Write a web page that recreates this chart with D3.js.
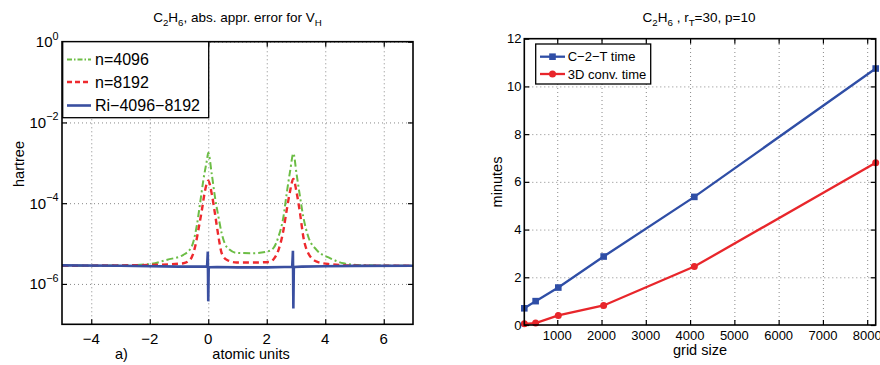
<!DOCTYPE html>
<html>
<head>
<meta charset="utf-8">
<script src="https://cdn.jsdelivr.net/npm/d3@7"></script>
<style>
body { margin: 0; background: #fff; }
svg { font-family: "Liberation Sans", Arial, Helvetica, sans-serif; }
.grid line { stroke: #888; stroke-dasharray: 1,3; stroke-width: 1; }
.grid path { display: none; }
.ticks path { display: none; }
.ticks line { stroke: #000; stroke-width: 1.2; }
</style>
</head>
<body>
<svg width="880" height="365"></svg>
<script>
// left panel: abs. error (hartree) along the molecule axis (atomic units)
var xGreen = [-5, -3, -2, -1.4, -0.85, -0.57, -0.4, -0.28, -0.17, -0.05, 0, 0.12, 0.23, 0.35, 0.46, 0.63, 0.97, 1.5, 2.0, 2.22, 2.4, 2.57, 2.68, 2.8, 2.91, 3.02, 3.14, 3.25, 3.42, 3.71, 4.16, 4.62, 5.07, 6, 7];
var yGreen = [2.82e-6, 2.85e-6, 3.1e-6, 3.98e-6, 5.25e-6, 8.3e-6, 2.57e-5, 9.8e-5, 3.63e-4, 1.12e-3, 1.78e-3, 5.25e-4, 1.41e-4, 4.57e-5, 1.78e-5, 8.3e-6, 5.89e-6, 5.75e-6, 6.3e-6, 7.6e-6, 1.48e-5, 4.57e-5, 1.7e-4, 6.3e-4, 1.7e-3, 5.25e-4, 1.41e-4, 4.57e-5, 1.48e-5, 6.9e-6, 4.37e-6, 3.24e-6, 2.95e-6, 2.85e-6, 2.82e-6];

var xRed = [-5, -2, -0.85, -0.62, -0.45, -0.34, -0.22, -0.11, 0, 0.12, 0.23, 0.35, 0.46, 0.63, 0.97, 1.5, 2.1, 2.22, 2.4, 2.57, 2.68, 2.8, 2.91, 3.02, 3.14, 3.25, 3.42, 3.71, 4.16, 5, 7];
var yRed = [2.82e-6, 2.95e-6, 3.24e-6, 3.98e-6, 8.3e-6, 2.14e-5, 6.6e-5, 2.04e-4, 3.63e-4, 1.7e-4, 5.5e-5, 1.48e-5, 5.75e-6, 3.98e-6, 3.39e-6, 3.39e-6, 3.5e-6, 3.98e-6, 6.9e-6, 2.14e-5, 6.6e-5, 2.04e-4, 3.98e-4, 1.86e-4, 5.5e-5, 1.48e-5, 5.75e-6, 3.55e-6, 3.09e-6, 2.85e-6, 2.82e-6];

var xBlue = [-5, -3, -1, -0.3, -0.04, -0.015, 0, 0.015, 0.04, 0.3, 1, 2, 2.6, 2.87, 2.895, 2.91, 2.925, 2.95, 3.2, 4, 5, 7];
var yBlue = [2.88e-6, 2.82e-6, 2.69e-6, 2.69e-6, 2.69e-6, 6.3e-6, 3.7e-7, 2.4e-6, 2.6e-6, 2.63e-6, 2.57e-6, 2.57e-6, 2.63e-6, 2.63e-6, 6.6e-6, 2.45e-7, 2.4e-6, 2.63e-6, 2.69e-6, 2.75e-6, 2.8e-6, 2.82e-6];

var leftXTicks = [-4, -2, 0, 2, 4, 6];
var leftYTicks = [1e-6, 1e-4, 1e-2, 1];
var leftLegend = ["n=4096", "n=8192", "Ri\u22124096\u22128192"];

// right panel: timings
var gridSize = [256, 512, 1024, 2048, 4096, 8192];
var c2tTime = [0.70, 1.00, 1.57, 2.87, 5.37, 10.75];
var convTime = [0.05, 0.08, 0.40, 0.82, 2.45, 6.80];
var rightXTicks = [1000, 2000, 3000, 4000, 5000, 6000, 7000, 8000];
var rightYTicks = [0, 2, 4, 6, 8, 10, 12];
var rightLegend = ["C\u22122\u2212T time", "3D conv. time"];

var green = "#6cbd45", red = "#ee2a2e", blue = "#3a4fa0";
var blue2 = "#2f4ea6", red2 = "#e8262b";

var svg = d3.select("svg");

// text with sub/superscripts: parts = [[str, "sub"|"sup"|null], ...]
function richText(text, parts, size) {
    var off = 0;
    parts.forEach(function(p) {
        var target = p[1] == "sub" ? size * 0.32 : p[1] == "sup" ? -size * 0.5 : 0;
        text.append("tspan")
            .attr("dy", target - off)
            .attr("font-size", p[1] ? size * 0.72 : size)
            .text(p[0]);
        off = target;
    });
    return text;
}

// ---------- left panel ----------
var L = {left: 62, right: 413, top: 41.7, bottom: 324.3};
var xL = d3.scaleLinear().domain([-5, 7]).range([L.left, L.right]);
var yL = d3.scaleLog().domain([1e-7, 1]).range([L.bottom, L.top]);

var gl = svg.append("g");

gl.append("g").attr("class", "grid")
    .attr("transform", "translate(0," + L.bottom + ")")
    .call(d3.axisBottom(xL).tickValues(leftXTicks).tickSize(-(L.bottom - L.top)).tickFormat(""));
gl.append("g").attr("class", "grid")
    .attr("transform", "translate(" + L.left + ",0)")
    .call(d3.axisLeft(yL).tickValues(leftYTicks).tickSize(-(L.right - L.left)).tickFormat(""));

gl.append("clipPath").attr("id", "clipL")
    .append("rect").attr("x", L.left).attr("y", L.top)
    .attr("width", L.right - L.left).attr("height", L.bottom - L.top);

var curves = gl.append("g").attr("clip-path", "url(#clipL)");

var logLine = d3.line()
    .x(function(d) { return xL(d[0]); })
    .y(function(d) { return yL(d[1]); });

curves.append("path")
    .datum(d3.zip(xGreen, yGreen))
    .attr("d", logLine.curve(d3.curveMonotoneX))
    .attr("fill", "none").attr("stroke", green).attr("stroke-width", 2)
    .attr("stroke-dasharray", "7,3,2,3");
curves.append("path")
    .datum(d3.zip(xRed, yRed))
    .attr("d", logLine.curve(d3.curveMonotoneX))
    .attr("fill", "none").attr("stroke", red).attr("stroke-width", 2.4)
    .attr("stroke-dasharray", "6,4");
curves.append("path")
    .datum(d3.zip(xBlue, yBlue))
    .attr("d", logLine.curve(d3.curveLinear))
    .attr("fill", "none").attr("stroke", blue).attr("stroke-width", 2.6);

// inward ticks on all four sides
gl.append("g").attr("class", "ticks")
    .attr("transform", "translate(0," + L.bottom + ")")
    .call(d3.axisBottom(xL).tickValues(leftXTicks).tickSize(-5).tickFormat(""));
gl.append("g").attr("class", "ticks")
    .attr("transform", "translate(0," + L.top + ")")
    .call(d3.axisTop(xL).tickValues(leftXTicks).tickSize(-5).tickFormat(""));
gl.append("g").attr("class", "ticks")
    .attr("transform", "translate(" + L.left + ",0)")
    .call(d3.axisLeft(yL).tickValues(leftYTicks).tickSize(-5).tickFormat(""));
gl.append("g").attr("class", "ticks")
    .attr("transform", "translate(" + L.right + ",0)")
    .call(d3.axisRight(yL).tickValues(leftYTicks).tickSize(-5).tickFormat(""));

gl.append("rect")
    .attr("x", L.left).attr("y", L.top)
    .attr("width", L.right - L.left).attr("height", L.bottom - L.top)
    .attr("fill", "none").attr("stroke", "#000").attr("stroke-width", 1.6);

gl.selectAll(".xlab").data(leftXTicks).enter().append("text")
    .attr("x", function(d) { return xL(d); })
    .attr("y", 343.5)
    .attr("text-anchor", "middle")
    .attr("font-size", 15)
    .text(function(d) { return d3.format("d")(d); });

leftYTicks.forEach(function(v) {
    var t = gl.append("text")
        .attr("x", 58.5).attr("y", yL(v) + 5.5)
        .attr("text-anchor", "end");
    richText(t, [["10", null], [d3.format("d")(Math.round(Math.log10(v))), "sup"]], 15);
});

richText(gl.append("text").attr("x", 237.5).attr("y", 21.5).attr("text-anchor", "middle"),
    [["C", null], ["2", "sub"], ["H", null], ["6", "sub"], [", abs. appr. error for V", null], ["H", "sub"]], 13.5);

gl.append("text")
    .attr("transform", "translate(23.5,164) rotate(-90)")
    .attr("text-anchor", "middle").attr("font-size", 14.5)
    .text("hartree");
gl.append("text")
    .attr("x", 251).attr("y", 358.5)
    .attr("text-anchor", "middle").attr("font-size", 14.5)
    .text("atomic units");
gl.append("text")
    .attr("x", 115).attr("y", 358.5)
    .attr("font-size", 14.5)
    .text("a)");

// left legend
var lg = gl.append("g");
lg.append("rect")
    .attr("x", 62.7).attr("y", 41.7).attr("width", 146).attr("height", 76)
    .attr("fill", "#fff").attr("stroke", "#000").attr("stroke-width", 1.3);
var legY = [59.5, 82, 105.5];
var legStyle = [[green, 2, "5,2,1.5,2"], [red, 2.4, "5,3"], [blue, 2.6, null]];
leftLegend.forEach(function(name, i) {
    lg.append("line")
        .attr("x1", 67).attr("x2", 91).attr("y1", legY[i]).attr("y2", legY[i])
        .attr("stroke", legStyle[i][0]).attr("stroke-width", legStyle[i][1])
        .attr("stroke-dasharray", legStyle[i][2]);
    lg.append("text")
        .attr("x", 95).attr("y", legY[i] + 5.8)
        .attr("font-size", 16)
        .text(name);
});

// ---------- right panel ----------
var R = {left: 524.3, right: 875.7, top: 38.7, bottom: 325};
var xR = d3.scaleLinear().domain([256, 8192]).range([R.left, R.right]);
var yR = d3.scaleLinear().domain([0, 12]).range([R.bottom, R.top]);

var gr = svg.append("g");

gr.append("g").attr("class", "grid")
    .attr("transform", "translate(0," + R.bottom + ")")
    .call(d3.axisBottom(xR).tickValues(rightXTicks).tickSize(-(R.bottom - R.top)).tickFormat(""));
gr.append("g").attr("class", "grid")
    .attr("transform", "translate(" + R.left + ",0)")
    .call(d3.axisLeft(yR).tickValues(rightYTicks.slice(1, -1)).tickSize(-(R.right - R.left)).tickFormat(""));

var line = d3.line()
    .x(function(d) { return xR(d[0]); })
    .y(function(d) { return yR(d[1]); });

var c2t = d3.zip(gridSize, c2tTime);
var conv = d3.zip(gridSize, convTime);

gr.append("path").datum(c2t).attr("d", line)
    .attr("fill", "none").attr("stroke", blue2).attr("stroke-width", 2.3);
gr.append("path").datum(conv).attr("d", line)
    .attr("fill", "none").attr("stroke", red2).attr("stroke-width", 2.3);

gr.selectAll(".sq").data(c2t).enter().append("rect")
    .attr("x", function(d) { return xR(d[0]) - 3.3; })
    .attr("y", function(d) { return yR(d[1]) - 3.3; })
    .attr("width", 6.6).attr("height", 6.6)
    .attr("fill", blue2);
gr.selectAll(".ci").data(conv).enter().append("circle")
    .attr("cx", function(d) { return xR(d[0]); })
    .attr("cy", function(d) { return yR(d[1]); })
    .attr("r", 3.5)
    .attr("fill", red2);

gr.append("g").attr("class", "ticks")
    .attr("transform", "translate(0," + R.bottom + ")")
    .call(d3.axisBottom(xR).tickValues(rightXTicks).tickSize(-5).tickFormat(""));
gr.append("g").attr("class", "ticks")
    .attr("transform", "translate(0," + R.top + ")")
    .call(d3.axisTop(xR).tickValues(rightXTicks).tickSize(-5).tickFormat(""));
gr.append("g").attr("class", "ticks")
    .attr("transform", "translate(" + R.left + ",0)")
    .call(d3.axisLeft(yR).tickValues(rightYTicks).tickSize(-5).tickFormat(""));
gr.append("g").attr("class", "ticks")
    .attr("transform", "translate(" + R.right + ",0)")
    .call(d3.axisRight(yR).tickValues(rightYTicks).tickSize(-5).tickFormat(""));

gr.append("rect")
    .attr("x", R.left).attr("y", R.top)
    .attr("width", R.right - R.left).attr("height", R.bottom - R.top)
    .attr("fill", "none").attr("stroke", "#000").attr("stroke-width", 1.6);

gr.selectAll(".xlab").data(rightXTicks).enter().append("text")
    .attr("x", function(d) { return xR(d); })
    .attr("y", 339.5)
    .attr("text-anchor", "middle")
    .attr("font-size", 13)
    .text(function(d) { return d; });
gr.selectAll(".ylab").data(rightYTicks).enter().append("text")
    .attr("x", 521.5)
    .attr("y", function(d) { return yR(d) + 4.6; })
    .attr("text-anchor", "end")
    .attr("font-size", 13)
    .text(function(d) { return d; });

richText(gr.append("text").attr("x", 699).attr("y", 21.5).attr("text-anchor", "middle"),
    [["C", null], ["2", "sub"], ["H", null], ["6", "sub"], [" , r", null], ["T", "sub"], ["=30, p=10", null]], 13.5);

gr.append("text")
    .attr("transform", "translate(502,182) rotate(-90)")
    .attr("text-anchor", "middle").attr("font-size", 14.5)
    .text("minutes");
gr.append("text")
    .attr("x", 700).attr("y", 355)
    .attr("text-anchor", "middle").attr("font-size", 14.5)
    .text("grid size");

// right legend
var rg = gr.append("g");
rg.append("rect")
    .attr("x", 535.7).attr("y", 44).attr("width", 115).attr("height", 40)
    .attr("fill", "#fff").attr("stroke", "#000").attr("stroke-width", 1.3);
var rLegY = [56.7, 74];
var rCol = [blue2, red2];
rightLegend.forEach(function(name, i) {
    rg.append("line")
        .attr("x1", 540).attr("x2", 565).attr("y1", rLegY[i]).attr("y2", rLegY[i])
        .attr("stroke", rCol[i]).attr("stroke-width", 2.3);
    if (i == 0) {
        rg.append("rect").attr("x", 549.2).attr("y", rLegY[i] - 3.3)
            .attr("width", 6.6).attr("height", 6.6).attr("fill", rCol[i]);
    } else {
        rg.append("circle").attr("cx", 552.5).attr("cy", rLegY[i])
            .attr("r", 3.5).attr("fill", rCol[i]);
    }
    rg.append("text")
        .attr("x", 567.7).attr("y", rLegY[i] + 4.6)
        .attr("font-size", 13)
        .text(name);
});
</script>
</body>
</html>
